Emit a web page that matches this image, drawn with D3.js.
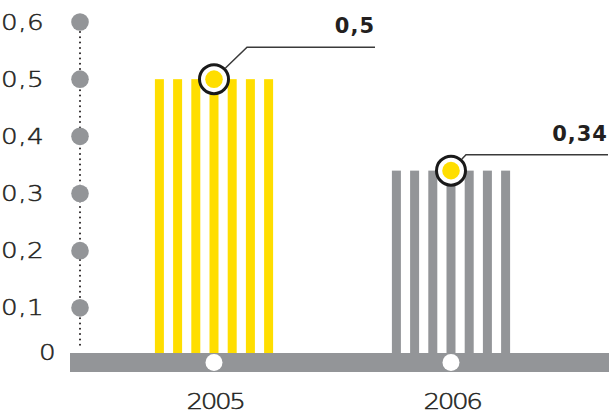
<!DOCTYPE html>
<html>
<head>
<meta charset="utf-8">
<script src="https://cdn.jsdelivr.net/npm/d3@7"></script>
<style>
  body { margin: 0; background: #fff; }
  svg { display: block; }
  .tick-label, .year-label { font-family: "DejaVu Sans", sans-serif; font-weight: 200; font-size: 21px; fill: #231f20; stroke: #231f20; stroke-width: 0.45px; }
  .tick-label { letter-spacing: 0.3px; }
  .year-label { letter-spacing: -2px; }
  .value-label { font-family: "DejaVu Sans", sans-serif; font-weight: bold; font-size: 21px; fill: #231f20; letter-spacing: 1px; }
</style>
</head>
<body>
<div id="chart"></div>
<script>
var years = ["2005", "2006"];
var values = [0.5, 0.34];
var valueLabels = ["0,5", "0,34"];
var barColors = ["#ffde00", "#939598"];
var tickValues = [0, 0.1, 0.2, 0.3, 0.4, 0.5, 0.6];
var tickLabels = ["0", "0,1", "0,2", "0,3", "0,4", "0,5", "0,6"];

// leader line layout for the value callouts
var calloutDx = [33, 15];
var calloutDy = [-32, -16];
var calloutEnd = [375, 608];

function chart() {
    var w = 609;
    var h = 414;
    var gray = "#939598";
    var dark = "#231f20";
    var stretch = 1.25; // the source font is a wide one

    var svg = d3.select("#chart")
        .append("svg")
        .attr("width", w)
        .attr("height", h);

    var y = d3.scaleLinear().domain([0, 0.6]).range([365, 22]);
    var x = d3.scalePoint().domain(years).range([214, 451]);

    var axisX = 80;

    // dotted axis line
    svg.append("line")
        .attr("x1", axisX).attr("x2", axisX)
        .attr("y1", y(0.6) + 10).attr("y2", 350)
        .attr("stroke", dark)
        .attr("stroke-width", 2)
        .attr("stroke-linecap", "round")
        .attr("stroke-dasharray", "0 5.3");

    // tick dots
    svg.selectAll("circle.tick")
        .data(tickValues.filter(function(d) { return d > 0; }))
        .enter()
        .append("circle")
        .attr("class", "tick")
        .attr("cx", axisX)
        .attr("cy", function(d) { return y(d); })
        .attr("r", 8.8)
        .attr("fill", gray);

    svg.selectAll("text.tick-label")
        .data(tickValues)
        .enter()
        .append("text")
        .attr("class", "tick-label")
        .attr("transform", function(d) {
            var tx = d === 0 ? 56 : 44;
            var ty = d === 0 ? 352 : y(d);
            return "translate(" + tx + "," + ty + ") scale(" + stretch + ",1)";
        })
        .attr("dy", "0.36em")
        .attr("text-anchor", "end")
        .text(function(d, i) { return tickLabels[i]; });

    // striped bars
    var stripes = 7, stripeW = 9, period = 18.2;
    var span = (stripes - 1) * period + stripeW;
    years.forEach(function(yr, i) {
        svg.selectAll("rect.bar" + i)
            .data(d3.range(stripes))
            .enter()
            .append("rect")
            .attr("class", "bar" + i)
            .attr("x", function(k) { return x(yr) - span / 2 + k * period; })
            .attr("y", y(values[i]))
            .attr("width", stripeW)
            .attr("height", y(0) - y(values[i]))
            .attr("fill", barColors[i]);
    });

    // baseline
    svg.append("rect")
        .attr("x", 70)
        .attr("y", 353)
        .attr("width", w - 70)
        .attr("height", 19)
        .attr("fill", gray);

    svg.selectAll("circle.base")
        .data(years)
        .enter()
        .append("circle")
        .attr("class", "base")
        .attr("cx", function(d) { return x(d); })
        .attr("cy", 362.5)
        .attr("r", 8.5)
        .attr("fill", "#fff");

    svg.selectAll("text.year-label")
        .data(years)
        .enter()
        .append("text")
        .attr("class", "year-label")
        .attr("transform", function(d) {
            return "translate(" + (x(d) + 1) + ",409) scale(" + stretch + ",1)";
        })
        .attr("text-anchor", "middle")
        .text(function(d) { return d; });

    // callouts
    years.forEach(function(yr, i) {
        var cx = x(yr), cy = y(values[i]);
        var ex = cx + calloutDx[i], ey = cy + calloutDy[i];
        var len = Math.sqrt(calloutDx[i] * calloutDx[i] + calloutDy[i] * calloutDy[i]);
        var r = 16;
        svg.append("polyline")
            .attr("points", [
                [cx + calloutDx[i] / len * r, cy + calloutDy[i] / len * r],
                [ex, ey],
                [calloutEnd[i], ey]
            ].join(" "))
            .attr("fill", "none")
            .attr("stroke", "#3a3a3a")
            .attr("stroke-width", 1.5);

        svg.append("circle")
            .attr("cx", cx).attr("cy", cy)
            .attr("r", 14.5)
            .attr("fill", "#fff")
            .attr("stroke", "#1a1a1a")
            .attr("stroke-width", 3);

        svg.append("circle")
            .attr("cx", cx).attr("cy", cy)
            .attr("r", 8.8)
            .attr("fill", "#ffde00");

        svg.append("text")
            .attr("class", "value-label")
            .attr("x", calloutEnd[i])
            .attr("y", ey - 14)
            .attr("text-anchor", "end")
            .text(valueLabels[i]);
    });
}

window.onload = chart;
</script>
</body>
</html>
